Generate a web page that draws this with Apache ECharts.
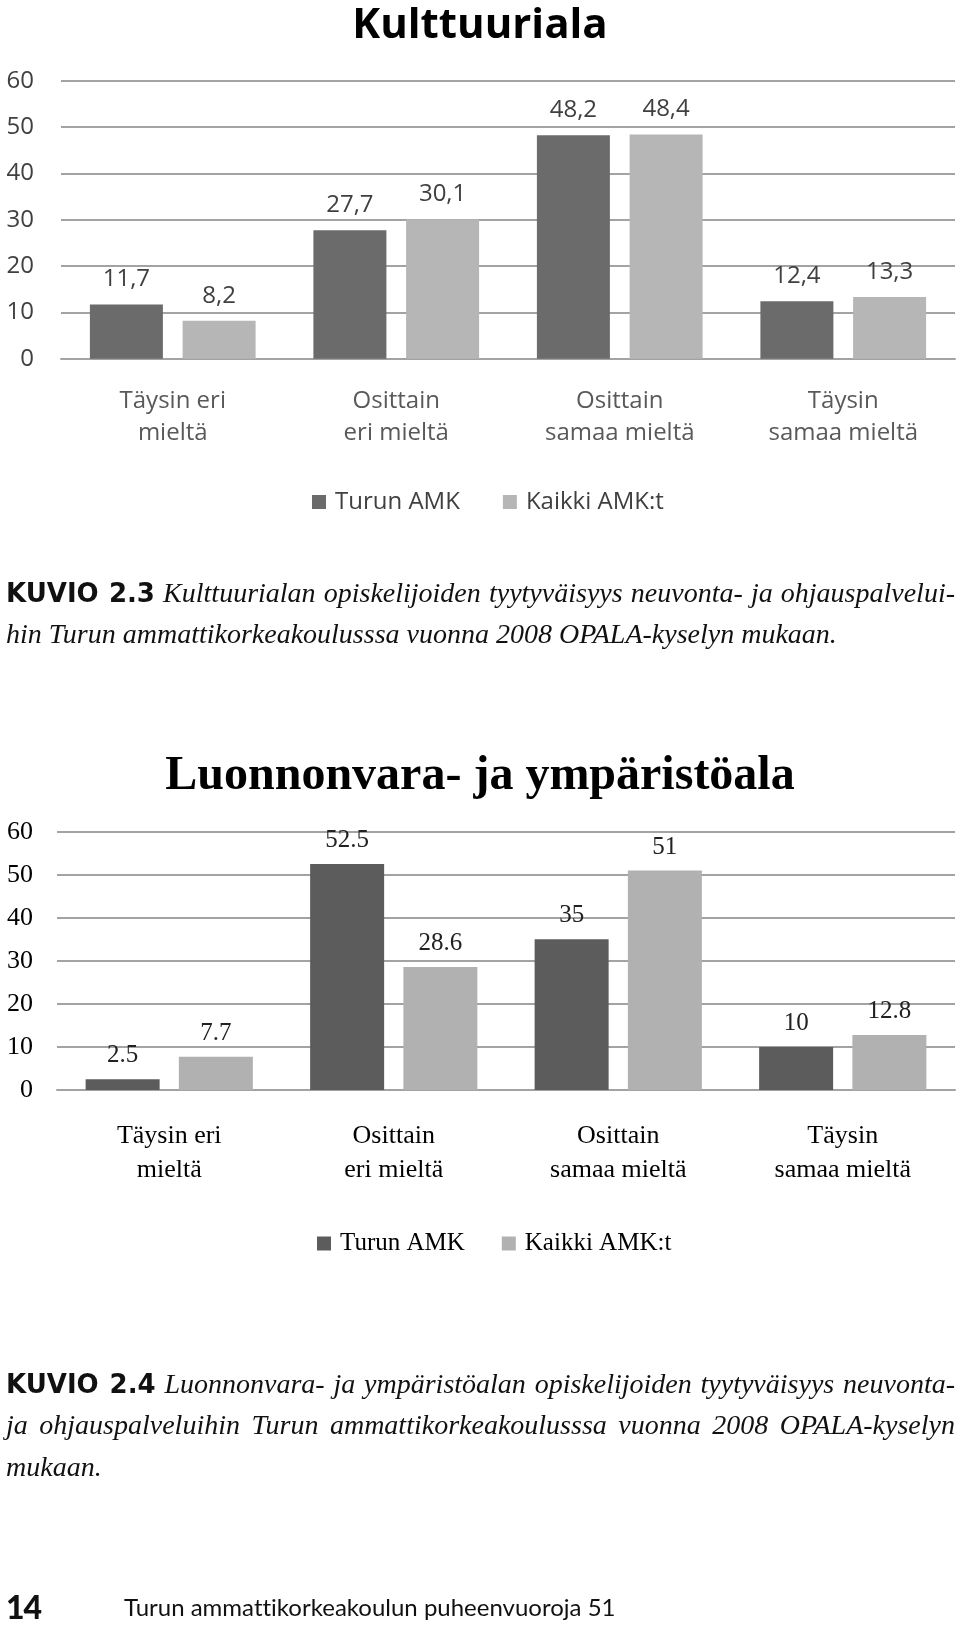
<!DOCTYPE html>
<html><head><meta charset="utf-8">
<script src="https://cdn.jsdelivr.net/npm/echarts@6/dist/echarts.min.js"></script>
<style>
html,body{margin:0;padding:0;background:#fff;}
#chart{position:absolute;left:0;top:0;width:960px;height:1627px;}
.cap{position:absolute;left:6px;width:949px;font-family:'Liberation Serif',serif;font-style:italic;font-size:28px;line-height:41px;color:#111;}
.just{text-align:justify;text-align-last:justify;}
.nw{white-space:nowrap;}
.kv{font-family:'DejaVu Sans',sans-serif;font-style:normal;font-weight:bold;font-size:26px;}
.foot{position:absolute;font-family:'Lato',sans-serif;color:#111;font-variant-ligatures:none;white-space:nowrap;}
</style></head><body>
<div id="chart"></div>
<div class="cap just" style="top:572px"><span class="kv">KUVIO 2.3</span> Kulttuurialan opiskelijoiden tyytyväisyys neuvonta- ja ohjauspalvelui-</div>
<div class="cap nw" style="top:613px">hin Turun ammattikorkeakoulusssa vuonna 2008 OPALA-kyselyn mukaan.</div>
<div class="cap just" style="top:1363px"><span class="kv">KUVIO 2.4</span> Luonnonvara- ja ympäristöalan opiskelijoiden tyytyväisyys neuvonta-</div>
<div class="cap just" style="top:1404px">ja ohjauspalveluihin Turun ammattikorkeakoulusssa vuonna 2008 OPALA-kyselyn</div>
<div class="cap nw" style="top:1446px">mukaan.</div>
<div class="foot" style="left:6px;top:1587px;font-size:32px;font-weight:900;letter-spacing:-1px;">14</div>
<div class="foot" style="left:124px;top:1592px;font-size:24px;">Turun ammattikorkeakoulun puheenvuoroja 51</div>
<script>
const categories = ['Täysin eri\nmieltä', 'Osittain\neri mieltä', 'Osittain\nsamaa mieltä', 'Täysin\nsamaa mieltä'];
const seriesNames = ['Turun AMK', 'Kaikki AMK:t'];
const kulttuuriTurun = [11.7, 27.7, 48.2, 12.4];
const kulttuuriKaikki = [8.2, 30.1, 48.4, 13.3];
const luonnonTurun = [2.5, 52.5, 35, 10];
const luonnonKaikki = [7.7, 28.6, 51, 12.8];
const yMin = 0, yMax = 60, yStep = 10;
const titles = ['Kulttuuriala', 'Luonnonvara- ja ympäristöala'];

const sans = 'Open Sans';
const serif = 'Liberation Serif';
const c1Dark = '#6b6b6b', c1Light = '#b6b6b6';
const c2Dark = '#5c5c5c', c2Light = '#b1b1b1';
const gridColor = '#a3a3a3';

const chart = echarts.init(document.getElementById('chart'));
function yAxis(idx, font, size, color, margin) {
  return {
    type: 'value', gridIndex: idx, min: yMin, max: yMax, interval: yStep,
    axisLine: { show: false }, axisTick: { show: false },
    axisLabel: { fontFamily: font, fontSize: size, color: color, margin: margin },
    splitLine: { lineStyle: { color: gridColor, width: 2 } }
  };
}
function xAxis(idx, font, size, color, lh, margin) {
  return {
    type: 'category', gridIndex: idx, data: categories,
    axisTick: { show: false },
    axisLine: { lineStyle: { color: gridColor, width: 2 } },
    axisLabel: { interval: 0, fontFamily: font, fontSize: size, color: color, lineHeight: lh, margin: margin }
  };
}
function bar(name, idx, data, color, width, gap, font, size, lcolor, dist, comma) {
  return {
    type: 'bar', name: name, xAxisIndex: idx, yAxisIndex: idx, data: data,
    barWidth: width, barGap: gap,
    itemStyle: { color: color },
    label: {
      show: true, position: 'top', distance: dist,
      fontFamily: font, fontSize: size, color: lcolor,
      formatter: p => comma ? String(p.value).replace('.', ',') : String(p.value)
    }
  };
}
chart.setOption({
  animation: false,
  backgroundColor: '#fff',
  title: [
    { text: titles[0], left: 'center', top: 0, textStyle: { fontFamily: sans, fontWeight: 'bold', fontSize: 42, color: '#000' } },
    { text: titles[1], left: 'center', top: 748, textStyle: { fontFamily: serif, fontWeight: 'bold', fontSize: 48, color: '#000' } }
  ],
  grid: [
    { left: 61, top: 80.7, width: 894, height: 278 },
    { left: 57, top: 831.7, width: 898, height: 258.3 }
  ],
  xAxis: [
    xAxis(0, sans, 24, '#595959', 32, 26),
    xAxis(1, serif, 26, '#000', 34, 29)
  ],
  yAxis: [
    yAxis(0, sans, 24, '#404040', 27),
    yAxis(1, serif, 26, '#000', 24)
  ],
  legend: [
    { left: 307, top: 485, itemWidth: 14, itemHeight: 14, itemGap: 43, icon: 'rect',
      data: [{ name: seriesNames[0], itemStyle: { color: c1Dark } }, { name: seriesNames[1], itemStyle: { color: c1Light } }],
      textStyle: { fontFamily: sans, fontSize: 24, color: '#404040', padding: [0, 0, 0, 4] }, selectedMode: false },
    { left: 312, top: 1226, itemWidth: 14, itemHeight: 14, itemGap: 37, icon: 'rect',
      data: [{ name: seriesNames[0], itemStyle: { color: c2Dark } }, { name: seriesNames[1], itemStyle: { color: c2Light } }],
      textStyle: { fontFamily: serif, fontSize: 25, color: '#000', padding: [0, 0, 0, 4] }, selectedMode: false }
  ],
  series: [
    bar(seriesNames[0], 0, kulttuuriTurun, c1Dark, 73, '27%', sans, 24, '#404040', 13, true),
    bar(seriesNames[1], 0, kulttuuriKaikki, c1Light, 73, '27%', sans, 24, '#404040', 13, true),
    bar(seriesNames[0], 1, luonnonTurun, c2Dark, 74, '26%', serif, 25, '#222', 11, false),
    bar(seriesNames[1], 1, luonnonKaikki, c2Light, 74, '26%', serif, 25, '#222', 11, false)
  ]
});
</script>
</body></html>
